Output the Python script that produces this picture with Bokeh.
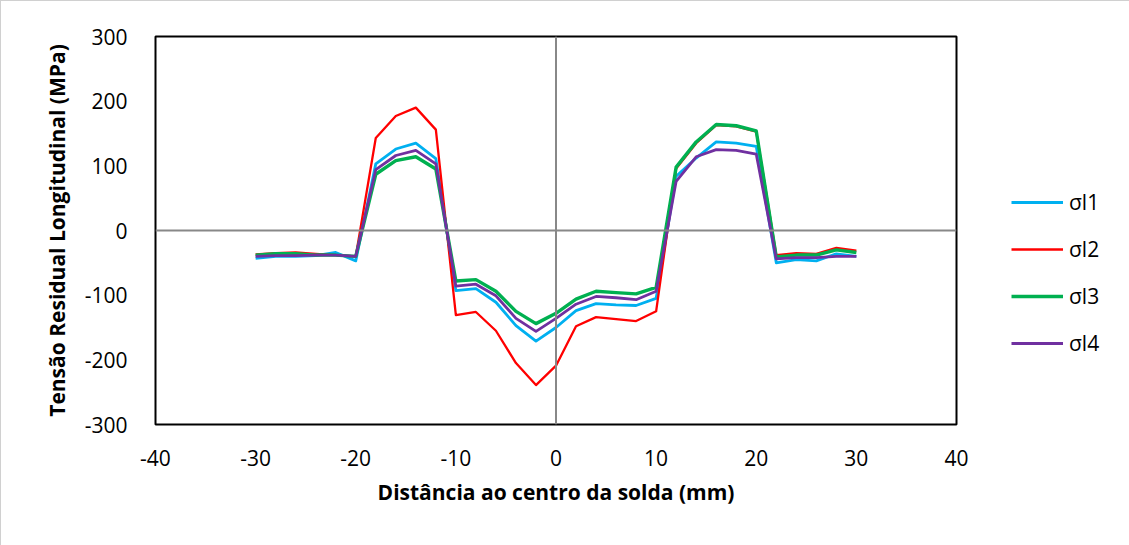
from bokeh.plotting import figure
from bokeh.models import Span, Legend, LegendItem, FixedTicker, ColumnDataSource, PrintfTickFormatter
from bokeh.embed import file_html
from bokeh.resources import INLINE

x_mm = [-30, -28, -26, -24, -22, -20, -18, -16, -14, -12, -10, -8, -6, -4, -2, 0,
        2, 4, 6, 8, 10, 12, 14, 16, 18, 20, 22, 24, 26, 28, 30]
sl1 = [-43, -40, -40, -39, -34, -47, 103, 126, 135, 111, -93, -90, -111, -147, -171, -150,
       -124, -113, -115, -116, -105, 84, 112, 137, 135, 130, -50, -45, -47, -36, -40]
sl2 = [-37, -35, -34, -36, -38, -40, 143, 177, 190, 156, -131, -126, -155, -205, -239, -209,
       -148, -134, -137, -140, -125, 96, 135, 163, 161, 153, -38, -35, -36, -27, -31]
sl3 = [-38, -36, -36, -38, -38, -40, 87, 108, 114, 95, -78, -76, -94, -125, -144, -128,
       -106, -94, -96, -98, -88, 98, 137, 164, 162, 154, -41, -38, -38, -30, -34]
sl4 = [-40, -39, -39, -38, -38, -40, 94, 116, 124, 103, -86, -83, -101, -136, -156, -136,
       -114, -102, -104, -107, -94, 76, 114, 125, 124, 118, -44, -42, -42, -40, -40]
series_names = ["σl1", "σl2", "σl3", "σl4"]
series_values = [sl1, sl2, sl3, sl4]
x_ticks = [-40, -30, -20, -10, 0, 10, 20, 30, 40]
y_ticks = [-300, -200, -100, 0, 100, 200, 300]

colors = ["#00b0f0", "#ff0000", "#00b050", "#7030a0"]
widths = [2.8, 2.3, 3.4, 2.8]

FONT = "Open Sans"

p = figure(frame_width=801, frame_height=388, output_backend="svg", toolbar_location=None,
           x_range=(-40, 40), y_range=(-300, 300),
           min_border_left=154, min_border_right=174, min_border_top=35, min_border_bottom=122,
           background_fill_color="white", border_fill_color="white")
p.xgrid.visible = False
p.ygrid.visible = False
p.outline_line_color = "black"
p.outline_line_width = 2

for ax in (p.xaxis[0], p.yaxis[0]):
    ax.axis_line_color = None
    ax.major_tick_line_color = None
    ax.minor_tick_line_color = None
    ax.major_label_text_font = FONT
    ax.major_label_text_font_size = "21px"
    ax.major_label_text_color = "black"
    ax.axis_label_text_font = FONT
    ax.axis_label_text_font_size = "21px"
    ax.axis_label_text_font_style = "bold"
    ax.axis_label_text_color = "black"
    ax.formatter = PrintfTickFormatter(format="%d")

p.xaxis.ticker = FixedTicker(ticks=x_ticks)
p.yaxis.ticker = FixedTicker(ticks=y_ticks)
p.xaxis.major_label_standoff = 19
p.yaxis.major_label_standoff = 22
p.xaxis.axis_label = "Distância ao centro da solda (mm)"
p.yaxis.axis_label = "Tensão Residual Longitudinal (MPa)"
p.xaxis.axis_label_standoff = 9
p.yaxis.axis_label_standoff = 11

p.add_layout(Span(location=0, dimension="width", line_color="#888888", line_width=2))
p.add_layout(Span(location=0, dimension="height", line_color="#888888", line_width=2))

items = []
for name, vals, c, w in zip(series_names, series_values, colors, widths):
    src = ColumnDataSource(dict(x=x_mm, y=vals))
    r = p.line("x", "y", source=src, line_color=c, line_width=w, line_join="round")
    items.append(LegendItem(label=name, renderers=[r]))

legend = Legend(items=items, location=(55, 66), orientation="vertical",
                glyph_width=52, glyph_height=30, label_height=30, spacing=17,
                label_text_font=FONT, label_text_font_size="21px", label_text_color="black",
                label_standoff=6, border_line_color=None, background_fill_alpha=0,
                padding=0, margin=0)
p.add_layout(legend, "right")

p.styles = {"border": "1px solid #d0d0d0", "box-sizing": "border-box"}

open("out.html", "w").write(file_html(p, INLINE))
